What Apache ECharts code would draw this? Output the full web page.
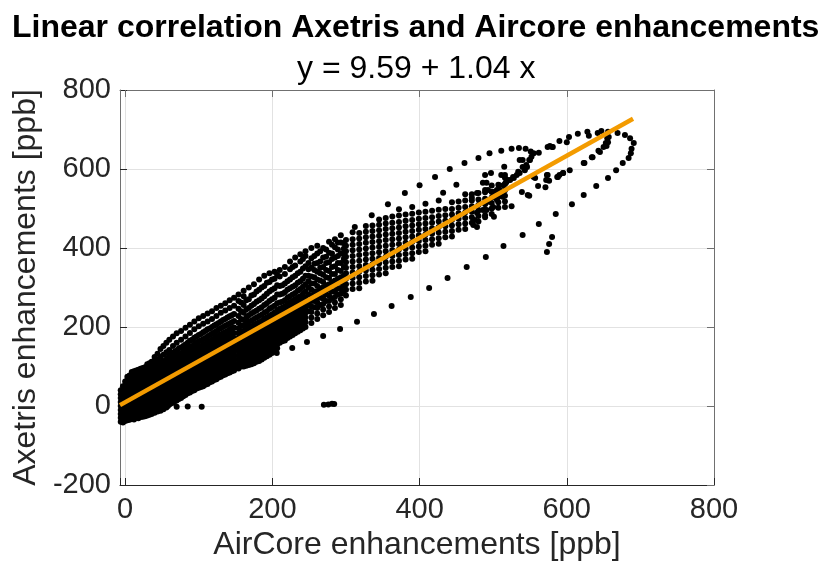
<!DOCTYPE html>
<html>
<head>
<meta charset="utf-8">
<script src="https://cdn.jsdelivr.net/npm/echarts@6/dist/echarts.min.js"></script>
<style>
html,body{margin:0;padding:0;background:#fff;}
#chart{width:821px;height:562px;}
</style>
</head>
<body>
<div id="chart"></div>
<script>
// ---- text ----
const chartTitle = 'Linear correlation Axetris and Aircore enhancements';
const chartSubtitle = 'y = 9.59 + 1.04 x';
const xAxisName = 'AirCore enhancements [ppb]';
const yAxisName = 'Axetris enhancements [ppb]';

// ---- axes ----
const xRange = [-7, 800];
const xTicks = [0, 200, 400, 600, 800];
const yTicks = [-200, 0, 200, 400, 600, 800];

// ---- fitted line (endpoints) ----
const fitLine = [[-7, 2.3], [690, 727.2]];

// ---- scatter: [x, [y values]] columns of the dense cloud ----
const coreColumns = [
  [-6, [-40,-30,-20,-10,0,10,20,30,40]],
  [-3, [-42,-33,-24,-15,-6,3,12,21,30,40,50]],
  [0, [-38,-28,-18,-8,2,12,22,32,42,52,62]],
  [3, [-36,-26,-16,-6,4,14,24,34,44,54,66,74]],
  [6, [-35,-25,-15,-5,5,15,25,35,45,55,65,77]],
  [9, [-33,-23,-13,-3,7,17,27,37,47,57,68,80,86]],
  [12, [-34,-24,-14,-4,6,16,26,36,46,56,66,76,88]],
  [15, [-30,-20,-10,0,10,20,30,40,50,60,70,80,90]],
  [18, [-31,-21,-11,-1,9,19,29,39,49,59,69,79,92]],
  [21, [-28,-18,-8,2,12,22,32,42,52,62,72,82,94]],
  [24, [-27,-17,-7,3,13,23,33,43,53,63,73,83,96]],
  [27, [-26,-16,-6,4,14,24,34,44,54,64,74,84,98]],
  [30, [-24,-14,-4,6,16,26,36,46,56,66,76,86,96,106]],
  [33, [-22,-12,-2,8,18,28,38,48,58,68,78,88,98,108]],
  [36, [-20,-10,0,10,20,30,40,50,60,70,80,90,100,112]],
  [40, [-17,-7,3,13,23,33,43,53,63,73,83,93,103,114,124]],
  [44, [-14,-4,6,16,26,36,46,56,66,76,86,96,106,118,132]],
  [48, [-12,-2,8,18,28,38,48,58,68,78,88,98,110,124,144]],
  [52, [-8,2,12,22,32,42,52,62,72,82,92,102,114,130,152]],
  [56, [-4,6,16,26,36,46,56,66,76,86,96,106,118,136,160]],
  [60, [4,14,24,34,44,54,64,74,84,94,104,114,126,142,168]],
  [65, [8,18,28,38,48,58,68,78,88,98,108,120,134,152,176]],
  [70, [14,24,34,44,54,64,74,84,94,104,114,126,140,160,184]],
  [76, [20,30,40,50,60,70,80,90,100,110,121,133,148,168,190]],
  [82, [28,38,48,58,68,78,88,98,108,118,129,141,156,176,198]],
  [88, [34,44,54,64,74,84,94,104,114,125,136,149,165,185,206]],
  [94, [40,50,60,70,80,90,100,110,121,132,143,156,173,194,214]],
  [100, [46,56,66,76,86,96,106,116,127,138,150,163,180,202,222]],
  [106, [50,60,70,80,90,100,110,120,131,143,155,169,187,208,228]],
  [112, [56,66,76,86,96,106,116,126,137,149,162,176,194,214,234]],
  [118, [62,72,82,92,102,112,122,132,143,155,168,183,200,220,240]],
  [124, [68,78,88,98,108,118,128,138,149,161,174,190,207,228,248]],
  [130, [74,84,94,104,114,124,134,144,155,167,181,197,214,236,254]],
  [136, [80,90,100,110,120,130,140,150,161,173,187,203,220,242,260]],
  [142, [85,95,105,115,125,135,145,155,166,179,193,209,227,248,268]],
  [148, [90,100,110,120,130,140,150,160,172,185,199,215,233,254,274]]
];
const coreInterleaved = [
  [58, [0,10,20,30,40,50,60,70,80,90,100,110,122]],
  [62.5, [7,17,27,37,47,57,67,77,87,97,107,117,130]],
  [67.5, [12,22,32,42,52,62,72,82,92,102,112,124,138]],
  [73, [18,28,38,48,58,68,78,88,98,108,118,130,146]],
  [79, [25,35,45,55,65,75,85,95,105,115,126,138,152]],
  [85, [32,42,52,62,72,82,92,102,112,122,133,146,160]],
  [91, [38,48,58,68,78,88,98,108,118,128,139,152,168]],
  [97, [44,54,64,74,84,94,104,114,124,134,146,160,176]],
  [103, [48,58,68,78,88,98,108,118,128,138,150,166,182]],
  [109, [54,64,74,84,94,104,114,124,134,145,157,172,190]],
  [115, [60,70,80,90,100,110,120,130,140,151,164,180,196]],
  [121, [66,76,86,96,106,116,126,136,146,158,171,186,204]],
  [127, [72,82,92,102,112,122,132,142,152,164,178,194,210]],
  [133, [78,88,98,108,118,128,138,148,158,170,184,200,218]],
  [139, [83,93,103,113,123,133,143,153,163,176,190,206,224]],
  [145, [88,98,108,118,128,138,148,158,169,182,196,212,230]]
];
const midColumns = [
  [154, [95,106,117,128,139,150,161,172,184,197,211,228,246,266,282]],
  [161, [100,111,122,133,144,155,166,178,190,203,218,236,256,278,292]],
  [168, [104,116,128,140,152,164,176,188,200,214,230,248,270,300]],
  [175, [108,120,132,144,156,168,180,192,205,220,238,258,282,308]],
  [182, [114,126,138,150,162,174,186,198,212,228,246,268,294,320]],
  [189, [122,134,146,158,170,182,194,206,220,236,256,278,304,330]],
  [196, [130,142,154,166,178,190,202,214,228,246,266,290,314,336]],
  [203, [138,150,162,174,186,198,210,223,237,254,274,298,322,340]],
  [210, [160,172,184,196,208,220,232,246,262,282,304,328,344]],
  [217, [166,178,190,202,214,226,238,252,268,288,310,334,352]],
  [224, [176,188,200,212,224,236,248,262,278,298,320,346,366]],
  [231, [184,196,208,220,232,244,256,270,286,306,330,356,376]],
  [238, [192,204,216,228,240,252,264,278,296,316,340,366,384]],
  [245, [200,212,224,236,248,260,274,290,308,330,354,380,392]],
  [253, [210,224,238,252,266,280,294,310,328,350,374,400]],
  [261, [220,234,248,262,276,290,304,320,340,362,386,406]],
  [269, [230,244,258,272,286,300,314,332,352,376,400]],
  [277, [238,252,266,280,294,308,324,342,364,388,416]],
  [285, [248,262,276,290,304,318,334,354,376,402,422]],
  [293, [256,270,284,298,312,326,342,362,386,414,432]]
];
const midInterleaved = [
  [157.5, [100,112,123,134,145,156,167,178,190,204,220,240,262]],
  [164.5, [102,114,126,138,150,162,173,184,196,209,224,244,268]],
  [171.5, [106,118,130,142,154,166,178,190,202,216,234,254,280]],
  [178.5, [112,124,136,148,160,172,184,196,208,224,242,264,290]],
  [185.5, [118,130,142,154,166,178,190,202,215,231,250,272,300]],
  [192.5, [126,138,150,162,174,186,198,210,224,240,260,284,312]],
  [199.5, [134,146,158,170,182,194,206,218,232,250,270,294,320]],
  [206.5, [146,156,168,180,192,204,216,228,242,260,282,306,332]],
  [213.5, [164,176,188,200,212,224,236,249,264,284,306]],
  [220.5, [172,184,196,208,220,232,244,258,274,294,316]],
  [227.5, [180,192,204,216,228,240,252,266,282,302,326,352]],
  [234.5, [188,200,212,224,236,248,260,274,292,312,336]],
  [241.5, [196,208,220,232,244,256,270,284,302,322,348,372]],
  [249, [240,256,282,300,316,330,346,362]],
  [257, [250,266,290,310,326,344,360,380]],
  [265, [256,274,298,318,336,350,366,392]],
  [273, [266,282,306,326,344,362,378,396]],
  [281, [272,290,314,334,352,372,386,408]],
  [289, [282,298,322,344,362,380,396,414]],
  [297, [290,306,330,352,372,384,398,412]]
];
// band along the fit line, x 300 to 520 (mostly above the line)
const bandColumns = [
  [300, [280,294,308,322,336,350,364,378,392,406,420]],
  [309, [296,310,324,338,352,366,380,394,408,422,440]],
  [318, [298,312,326,340,354,368,382,396,410,424,438]],
  [327, [315,329,343,357,371,385,399,413,427,441,456]],
  [336, [317,331,345,359,373,387,401,415,429,443,457]],
  [345, [333,347,361,375,389,403,417,431,445,459,472]],
  [354, [336,350,364,378,392,406,420,434,448,462,476]],
  [363, [352,366,380,394,408,422,436,450,464,480]],
  [372, [354,368,382,396,410,424,438,452,466,482,498]],
  [381, [371,385,399,413,427,441,455,469,485]],
  [390, [373,387,401,415,429,443,457,471,487,504]],
  [399, [390,404,418,432,446,460,474,490]],
  [408, [392,406,420,434,448,462,476,492,512]],
  [417, [408,422,436,450,464,478,494]],
  [426, [411,425,439,453,467,481,497,520]],
  [435, [427,441,455,469,483,499]],
  [444, [429,443,457,471,485,499,516]],
  [453, [446,460,474,488,502,518]],
  [462, [448,462,476,490,504,520,536]],
  [471, [464,478,492,506,520,536]],
  [480, [467,481,495,509,523,539]],
  [489, [483,497,511,525,541]],
  [498, [486,500,514,528,542,558]],
  [507, [502,516,530,544,560]],
  [516, [504,518,532,546,562,578]]
];
// outer loop / trails, read point by point
const loopPoints = [
  [312,453],[335,483],[357,511],[380,539],[400,559],[421,580],[441,600],[461,615],[480,628],[495,640],
  [511,646],[525,651],[535,653],[544,651],[551,644],[555,640],[562,641],[577,658],[581,656],[590,671],
  [600,668],[603,681],[615,689],[628,694],[630,684],[642,691],[647,696],[656,694],[669,691],[679,686],
  [686,678],[691,666],[688,651],[687,640],[684,628],[676,615],[667,597],[656,577],[640,557],[623,534],
  [607,511],[585,486],[562,461],[540,433],[514,405],[490,377],[464,352],[438,324],[413,299],[388,276],
  [362,253],[338,233],[315,213],[292,195],[269,177],[247,162],[227,147],[206,134],[188,124],
  [580,428],[576,410],[573,390],[432,540],[450,560],[497,590],[515,606]
];
const innerPoints = [
  [536,623],[545,610],[550,623],[557,577],[561,557],[574,585],[572,572],[571,554],[587,580],[590,585],
  [595,590],[604,597],[623,615],[634,630],[643,646],[650,656],[653,666],[655,678],[657,681],[656,668],
  [654,658],[645,643],[635,630],[624,615],[588,580],[576,570],[555,580],[549,532],[539,542],[547,534],
  [525,506],[501,479],[491,496],[513,530],[527,580],[534,593],[540,605],[516,585],[491,565],[489,547],
  [508,559],[520,572],[552,631],[549,623],[540,623],[574,656],[580,656],[546,605],[543,597],[536,590],
  [532,585],[528,577],[523,572],[517,565],[514,559],[509,547],[505,547],[500,542],[493,547],[491,516],
  [505,522],[500,504],[486,496],[478,489],[473,458],[475,471],[489,478],[478,453],[471,527],[478,539],
  [486,565],[489,585],[511,585],[518,567],[595,590],[573,585]
];
const zeroRow = [[70,-2],[85,-1],[104,-2],[270,3],[276,4],[281,6],[284,5]];

// ---- build scatter data ----
const scatterData = [];
coreColumns.concat(coreInterleaved, midColumns, midInterleaved, bandColumns).forEach(function (c) {
  c[1].forEach(function (y) { scatterData.push([c[0], y]); });
});
loopPoints.concat(innerPoints, zeroRow).forEach(function (p) { scatterData.push(p); });

const font = "'Liberation Sans', Arial, Helvetica, sans-serif";
const dark = '#262626';
const boxGray = '#707070';

const chart = echarts.init(document.getElementById('chart'), null, {renderer: 'canvas'});
const xMain = {
  type: 'value', min: xRange[0], max: xTicks[xTicks.length - 1],
  minInterval: 200, maxInterval: 200, position: 'bottom',
  name: xAxisName, nameLocation: 'middle', nameGap: 44,
  nameTextStyle: {fontSize: 32, color: dark, fontFamily: font},
  axisLine: {show: true, onZero: false, lineStyle: {color: dark, width: 1}},
  axisTick: {show: true, inside: true, length: 7, lineStyle: {color: dark}},
  axisLabel: {fontSize: 29, color: dark, margin: 10, fontFamily: font,
    formatter: function (v) { return xTicks.indexOf(Math.round(v)) >= 0 && Math.abs(v - Math.round(v)) < 1e-6 ? String(Math.round(v)) : ''; }},
  splitLine: {show: true, lineStyle: {color: '#e2e2e2', width: 1}}
};
const xTop = {
  type: 'value', min: xRange[0], max: xTicks[xTicks.length - 1],
  minInterval: 200, maxInterval: 200, position: 'top',
  axisLine: {show: true, onZero: false, lineStyle: {color: boxGray, width: 1}},
  axisTick: {show: true, inside: true, length: 7, lineStyle: {color: boxGray}},
  axisLabel: {show: false}, splitLine: {show: false}
};
const yMain = {
  type: 'value', min: yTicks[0], max: yTicks[yTicks.length - 1], interval: 200, position: 'left',
  name: yAxisName, nameLocation: 'middle', nameGap: 63,
  nameTextStyle: {fontSize: 32, color: dark, fontFamily: font},
  axisLine: {show: true, onZero: false, lineStyle: {color: boxGray, width: 1}},
  axisTick: {show: true, inside: true, length: 7, lineStyle: {color: dark}},
  axisLabel: {fontSize: 29, color: dark, margin: 9, fontFamily: font},
  splitLine: {show: true, lineStyle: {color: '#e2e2e2', width: 1}}
};
const yRight = {
  type: 'value', min: yTicks[0], max: yTicks[yTicks.length - 1], interval: 200, position: 'right',
  axisLine: {show: true, onZero: false, lineStyle: {color: boxGray, width: 1}},
  axisTick: {show: true, inside: true, length: 7, lineStyle: {color: boxGray}},
  axisLabel: {show: false}, splitLine: {show: false}
};

chart.setOption({
  animation: false,
  backgroundColor: '#ffffff',
  textStyle: {fontFamily: font},
  title: [
    {text: chartTitle, left: 7, top: 7,
      textStyle: {fontSize: 32, fontWeight: 'bold', color: '#000', fontFamily: font}},
    {text: chartSubtitle, left: 292, top: 48,
      textStyle: {fontSize: 32, fontWeight: 'normal', color: '#000', fontFamily: font}}
  ],
  grid: {left: 120, right: 107, top: 90, bottom: 77, containLabel: false, outerBoundsMode: 'none'},
  xAxis: [xMain, xTop],
  yAxis: [yMain, yRight],
  series: [
    {type: 'scatter', xAxisIndex: 0, yAxisIndex: 0, data: scatterData,
      symbol: 'circle', symbolSize: 6, itemStyle: {color: '#000', opacity: 1},
      emphasis: {disabled: true}, silent: true, z: 2},
    {type: 'line', xAxisIndex: 0, yAxisIndex: 0, data: fitLine, symbol: 'none',
      lineStyle: {color: '#F39B00', width: 4.5}, silent: true, z: 3}
  ]
});
</script>
</body>
</html>
